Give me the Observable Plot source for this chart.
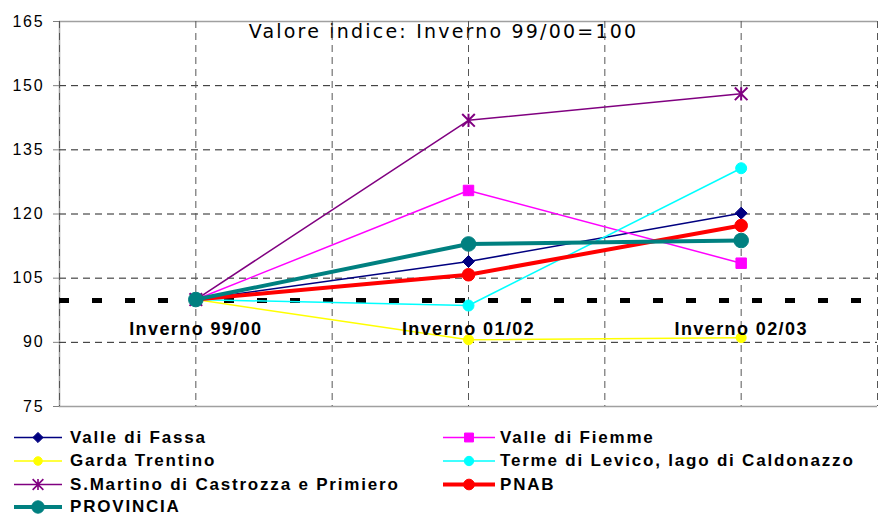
<!DOCTYPE html>
<html><head><meta charset="utf-8">
<script src="https://cdn.jsdelivr.net/npm/d3@7"></script>
<script src="https://cdn.jsdelivr.net/npm/@observablehq/plot@0.6"></script>
<style>
html,body{margin:0;padding:0;background:#fff;}
#chart{width:878px;height:516px;overflow:hidden;background:#fff;}
#chart svg{display:block;}
</style></head><body><div id="chart"></div>
<script>
const categories = ["Inverno 99/00", "Inverno 01/02", "Inverno 02/03"];
const seriesNames = ["Valle di Fassa", "Valle di Fiemme", "Garda Trentino", "Terme di Levico, lago di Caldonazzo", "S.Martino di Castrozza e Primiero", "PNAB", "PROVINCIA"];
const valleDiFassa = [100, 108.9, 120.2];
const valleDiFiemme = [100, 125.5, 108.5];
const gardaTrentino = [100, 90.6, 91.1];
const termeDiLevico = [100, 98.6, 130.7];
const sanMartino = [100, 141.9, 148.1];
const pnab = [100, 105.8, 117.3];
const provincia = [100, 113.0, 113.8];
const yTicks = [75, 90, 105, 120, 135, 150, 165];
const baseValue = 100;
const title = "Valore indice: Inverno 99/00=100";

const seriesValues = [valleDiFassa, valleDiFiemme, gardaTrentino, termeDiLevico, sanMartino, pnab, provincia];

// Excel-like star marker: X plus vertical bar
const excelStar = {
  draw(ctx, size) {
    const r = Math.sqrt(size / Math.PI);
    ctx.moveTo(-r, -r); ctx.lineTo(r, r);
    ctx.moveTo(-r, r); ctx.lineTo(r, -r);
    ctx.moveTo(0, -r * 1.05); ctx.lineTo(0, r * 1.05);
  }
};
// Excel-like diamond: square rotated 45 degrees
const excelDiamond = {
  draw(ctx, size) {
    const h = Math.sqrt(size / Math.PI) * 1.2;
    ctx.moveTo(0, -h); ctx.lineTo(h, 0); ctx.lineTo(0, h); ctx.lineTo(-h, 0); ctx.closePath();
  }
};

const styles = [
  {color: "#000080", symbol: excelDiamond, r: 5, lw: 1.5, filled: true},
  {color: "#ff00ff", symbol: "square", r: 5.9, lw: 1.5, filled: true},
  {color: "#ffff00", symbol: "circle", r: 5, lw: 1.5, filled: true},
  {color: "#00ffff", symbol: "circle", r: 5.5, lw: 1.5, filled: true},
  {color: "#800080", symbol: excelStar, r: 6.3, lw: 1.5, filled: false},
  {color: "#ff0000", symbol: "circle", r: 6.3, lw: 4, filled: true},
  {color: "#008080", symbol: "circle", r: 7.3, lw: 4, filled: true}
];

const table = seriesNames.flatMap((name, s) =>
  seriesValues[s].map((v, i) => ({series: name, i, v})));

const xGrid = categories.flatMap((c, i) => [i - 0.5, i]).concat([categories.length - 0.5]);
const yGrid = yTicks.slice(1, -1);

const seriesMarks = seriesNames.flatMap((name, s) => {
  const st = styles[s];
  const d = table.filter(r => r.series === name);
  return [
    Plot.line(d, {x: "i", y: "v", stroke: st.color, strokeWidth: st.lw}),
    Plot.dot(d, {x: "i", y: "v", symbol: st.symbol, r: st.r,
      fill: st.filled ? st.color : "none", stroke: st.color, strokeWidth: st.filled ? 1 : 2})
  ];
});

const plot = Plot.plot({
  width: 878,
  height: 420,
  marginLeft: 59,
  marginRight: 1,
  marginTop: 21,
  marginBottom: 14,
  style: {fontFamily: "'Liberation Sans', Arial, sans-serif", background: "#fff", overflow: "visible"},
  x: {type: "linear", domain: [-0.5, categories.length - 0.5], axis: null},
  y: {domain: [yTicks[0], yTicks[yTicks.length - 1]], axis: null},
  marks: [
    Plot.text([title], {frameAnchor: "top", lineAnchor: "top", dx: -25, dy: 3, fontSize: 19,
      fontFamily: "'DejaVu Sans', Verdana, sans-serif", fill: "#000"}),
    Plot.ruleX([xGrid[0]], {stroke: "#a0a0a0", strokeWidth: 1.5}),
    Plot.ruleY([yTicks[0], yTicks[yTicks.length - 1]], {stroke: "#a0a0a0", strokeWidth: 1.5}),
    Plot.ruleY(yGrid, {stroke: "#222", strokeDasharray: "7,5", strokeWidth: 1}),
    Plot.ruleX(xGrid, {stroke: "#555", strokeDasharray: "7,5", strokeWidth: 1}),
    Plot.axisY(yTicks, {tickSize: 6, tickPadding: 9, fontSize: 16, stroke: "#808080", fill: "#000", label: null}),
    Plot.ruleY([baseValue], {stroke: "#000", strokeWidth: 5, strokeDasharray: "10,23", dy: 1}),
    ...seriesMarks,
    Plot.text(categories, {x: (d, i) => i, y: () => baseValue, dy: 30, fontSize: 18, fontWeight: "bold", fill: "#000"})
  ]
});

// horizontal stretch of Excel-rendered text
const sp = {"19": "2.2px", "18": "1.4px", "16": "1.8px"};
d3.select(plot).selectAll("g[font-size]").each(function() {
  const fs = this.getAttribute("font-size");
  if (sp[fs]) this.setAttribute("letter-spacing", sp[fs]);
});

const chart = document.getElementById("chart");
chart.appendChild(plot);

// legend
const legend = d3.create("svg").attr("width", 878).attr("height", 96)
  .style("font-family", "'Liberation Sans', Arial, sans-serif");
const colX = [14, 443], colW = [48, 52], colGap = [8, 5], rowY = [17.5, 41, 64.5, 87];
seriesNames.forEach((name, s) => {
  const st = styles[s];
  const cx = colX[s % 2], w = colW[s % 2], cy = rowY[Math.floor(s / 2)];
  const g = legend.append("g");
  g.append("line").attr("x1", cx).attr("x2", cx + w).attr("y1", cy).attr("y2", cy)
    .attr("stroke", st.color).attr("stroke-width", st.lw);
  const mr = st.r * 0.85;
  if (st.symbol === "circle") {
    g.append("circle").attr("cx", cx + w / 2).attr("cy", cy).attr("r", mr)
      .attr("fill", st.color).attr("stroke", st.color);
  } else {
    const type = st.symbol === "square" ? d3.symbolSquare : st.symbol;
    g.append("path").attr("transform", `translate(${cx + w / 2},${cy})`)
      .attr("d", d3.symbol(type, Math.PI * mr * mr)())
      .attr("fill", st.filled ? st.color : "none").attr("stroke", st.color)
      .attr("stroke-width", st.filled ? 1 : 1.6);
  }
  g.append("text").attr("x", cx + w + colGap[s % 2]).attr("y", cy + 5)
    .attr("font-size", 17).attr("font-weight", "bold").attr("letter-spacing", "1.8px")
    .text(name);
});
chart.appendChild(legend.node());
</script></body></html>
